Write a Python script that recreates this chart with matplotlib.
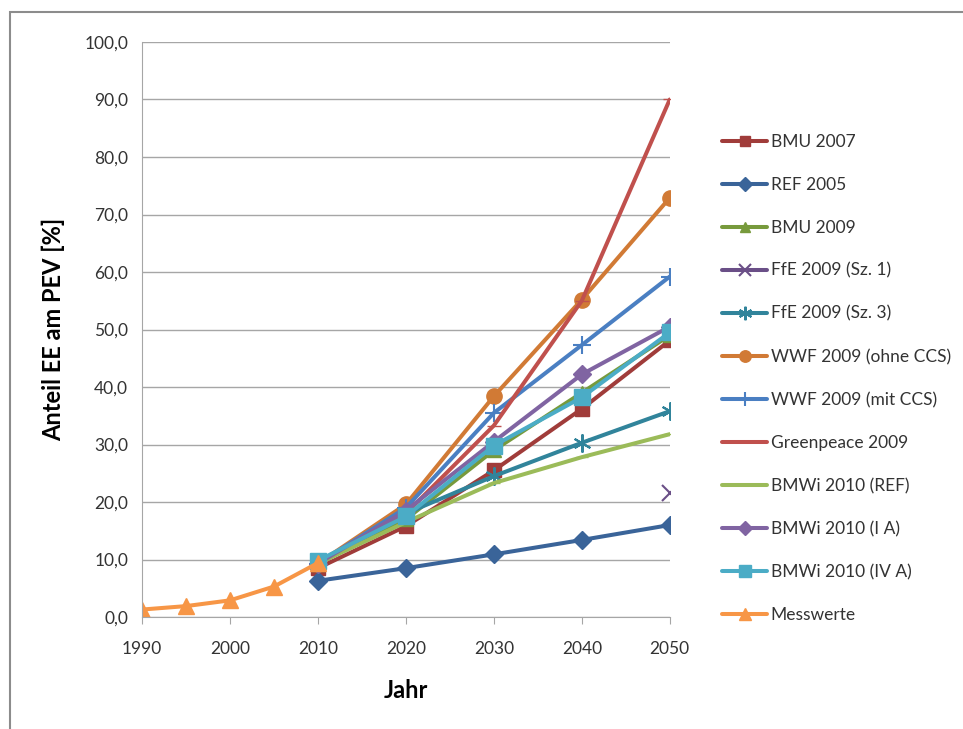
import matplotlib.pyplot as plt
from matplotlib.patches import Rectangle

plt.rcParams['font.family'] = ['Lato', 'DejaVu Sans']

years = [2010, 2020, 2030, 2040, 2050]
years_mess = [1990, 1995, 2000, 2005, 2010]

bmu2007 = [8.5, 15.8, 25.5, 36.2, 48.1]
ref2005 = [6.3, 8.5, 10.9, 13.4, 16.0]
bmu2009 = [9.3, 17.0, 29.0, 39.0, 49.0]
ffe_sz1 = [None, None, None, None, 21.5]
ffe_sz3 = [9.3, 18.0, 24.5, 30.3, 35.8]
wwf_ohne = [9.3, 19.6, 38.4, 55.2, 72.9]
wwf_mit = [9.3, 19.0, 35.5, 47.3, 59.2]
greenpeace = [9.3, 18.0, 33.3, 55.0, 90.0]
bmwi_ref = [9.3, 16.5, 23.3, 27.8, 31.8]
bmwi_ia = [9.3, 18.5, 30.5, 42.2, 50.5]
bmwi_iva = [9.8, 17.5, 29.8, 38.2, 49.5]
messwerte = [1.3, 1.9, 2.9, 5.3, 9.4]

fig = plt.figure(figsize=(9.63, 7.29), dpi=100)
ax = fig.add_axes([0.1475, 0.1536, 0.548, 0.7888])

def nz(vals):
    return [float('nan') if v is None else v for v in vals]

series = [
    ('BMU 2007', years, bmu2007, '#A03C3A', 's', 10),
    ('REF 2005', years, ref2005, '#3A6499', 'D', 9),
    ('BMU 2009', years, bmu2009, '#779A3C', '^', 10),
    ('FfE 2009 (Sz. 1)', years, nz(ffe_sz1), '#6A4F87', 'x', 11),
    ('FfE 2009 (Sz. 3)', years, ffe_sz3, '#31849B', (6, 2, 0), 13),
    ('WWF 2009 (ohne CCS)', years, wwf_ohne, '#D17A35', 'o', 11),
    ('WWF 2009 (mit CCS)', years, wwf_mit, '#4A7FC2', '+', 13),
    ('Greenpeace 2009', years, greenpeace, '#C0504D', '_', 10),
    ('BMWi 2010 (REF)', years, bmwi_ref, '#9BBB59', '_', 8),
    ('BMWi 2010 (I A)', years, bmwi_ia, '#8064A2', 'D', 9),
    ('BMWi 2010 (IV A)', years, bmwi_iva, '#4BACC6', 's', 11),
    ('Messwerte', years_mess, messwerte, '#F79646', '^', 11),
]

for name, xs, ys, col, mk, ms in series:
    ax.plot(xs, ys, color=col, lw=2.9, marker=mk, markersize=ms,
            markeredgewidth=1.5 if mk in ('x', '+', (6, 2, 0)) else 1,
            markeredgecolor=col, label=name, solid_capstyle='round')

ax.set_xlim(1990, 2050)
ax.set_ylim(0, 100)
ax.set_xticks(range(1990, 2051, 10))
ax.set_yticks(range(0, 101, 10))
ax.set_yticklabels([f'{v},0' for v in range(0, 101, 10)])
ax.yaxis.grid(True, color='#A6A6A6', lw=1)
ax.set_axisbelow(True)
for s in ['top', 'right']:
    ax.spines[s].set_visible(False)
for s in ['left', 'bottom']:
    ax.spines[s].set_color('#A6A6A6')
ax.tick_params(axis='y', length=0, labelsize=12.5, pad=10)
ax.tick_params(axis='x', length=5, color='#A6A6A6', labelsize=12.5, pad=12)
for lab in ax.get_xticklabels() + ax.get_yticklabels():
    lab.set_color('#333333')

ax.set_xlabel('Jahr', fontsize=17, fontweight='bold', labelpad=16)
ax.set_ylabel('Anteil EE am PEV [%]', fontsize=17, fontweight='bold', labelpad=14)

leg = ax.legend(loc='upper left', bbox_to_anchor=(1.086, 0.852), frameon=False,
                fontsize=12.5, labelspacing=1.55, handlelength=2.6,
                handletextpad=0.2, markerscale=0.75, borderaxespad=0)
for t in leg.get_texts():
    t.set_color('#333333')

fig.patches.append(Rectangle((10 / 963, -0.1), 1.1, 1 - 12 / 729 + 0.1,
                             transform=fig.transFigure, fill=False,
                             edgecolor='#8C8C8C', lw=1.5))

fig.savefig('out.png', dpi=100)
